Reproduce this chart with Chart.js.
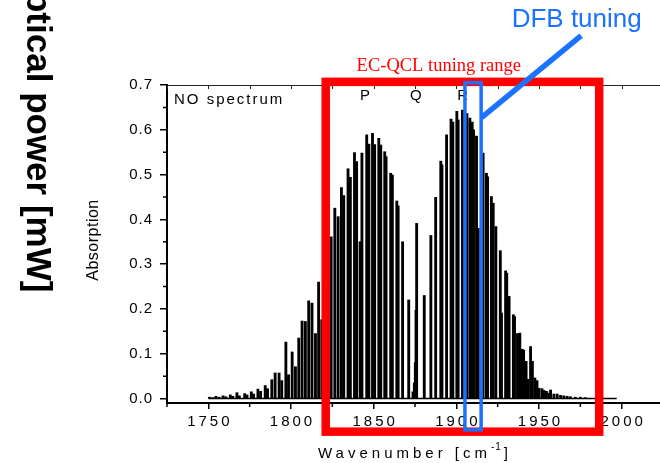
<!DOCTYPE html>
<html>
<head>
<meta charset="utf-8">
<script src="https://cdn.jsdelivr.net/npm/chart.js@4.4.1/dist/chart.umd.min.js"></script>
<style>
  html, body { margin: 0; padding: 0; background: #fff; }
  #wrap { width: 660px; height: 463px; overflow: hidden; }
  canvas { display: block; }
</style>
</head>
<body>
<div id="wrap"><canvas id="spec" width="700" height="463"></canvas></div>
<script>
// NO absorption lines (wavenumber in cm-1, absorption)
const wavenumber = [
  1750.6, 1752.6, 1754.6, 1756.6, 1758.9, 1760.6, 1763.3, 1764.8, 1767.3, 1768.7,
  1772.0, 1773.4, 1776.0, 1777.4, 1780.0, 1781.6, 1784.4, 1785.8, 1788.4, 1790.4,
  1792.8, 1794.4, 1796.9, 1798.5, 1800.7, 1802.7, 1804.7, 1806.7, 1808.7, 1810.7,
  1812.7, 1814.8, 1816.7, 1818.6, 1820.8, 1822.7, 1824.3, 1826.5, 1828.5, 1830.5,
  1831.9, 1834.5, 1835.9, 1838.4, 1839.7, 1841.8, 1842.9, 1845.8, 1847.1, 1849.3,
  1850.6, 1853.1, 1854.3, 1856.7, 1857.5, 1860.3, 1861.3, 1864.0, 1864.8, 1867.5,
  1871.2, 1873.8, 1874.6, 1875.2, 1875.6, 1876.0, 1880.6, 1884.6, 1887.5, 1890.6,
  1891.3, 1894.1, 1896.8, 1897.9, 1900.3, 1901.1, 1903.7, 1904.6, 1906.4, 1908.2,
  1909.6, 1910.4, 1912.2, 1913.3, 1916.2, 1918.2, 1918.9, 1921.2, 1922.3, 1923.9,
  1926.6, 1927.3, 1929.8, 1930.5, 1931.9, 1934.5, 1935.2, 1937.0, 1938.4, 1939.8,
  1940.7, 1942.2, 1943.3, 1944.9, 1946.0, 1947.5, 1948.8, 1950.0, 1951.8, 1953.0,
  1954.5, 1956.0, 1957.0, 1959.0, 1961.0, 1963.0, 1965.0, 1967.0, 1969.0, 1972.0,
  1975.0, 1978.0
];
const absorption = [
  0.003, 0.002, 0.005, 0.003, 0.006, 0.004, 0.008, 0.005, 0.013, 0.006,
  0.011, 0.008, 0.015, 0.010, 0.021, 0.016, 0.029, 0.022, 0.042, 0.057,
  0.057, 0.040, 0.126, 0.053, 0.104, 0.071, 0.135, 0.173, 0.172, 0.218,
  0.213, 0.145, 0.260, 0.176, 0.300, 0.209, 0.361, 0.425, 0.406, 0.471,
  0.453, 0.513, 0.494, 0.549, 0.529, 0.350, 0.548, 0.589, 0.568, 0.592,
  0.567, 0.581, 0.566, 0.551, 0.540, 0.503, 0.499, 0.441, 0.430, 0.350,
  0.220, 0.015, 0.035, 0.080, 0.197, 0.391, 0.230, 0.364, 0.449, 0.530,
  0.522, 0.589, 0.624, 0.617, 0.641, 0.622, 0.644, 0.630, 0.636, 0.626,
  0.617, 0.600, 0.586, 0.380, 0.548, 0.503, 0.495, 0.451, 0.436, 0.384,
  0.330, 0.191, 0.285, 0.280, 0.228, 0.187, 0.183, 0.145, 0.146, 0.110,
  0.108, 0.083, 0.043, 0.116, 0.083, 0.046, 0.040, 0.023, 0.022, 0.018,
  0.016, 0.012, 0.019, 0.010, 0.010, 0.007, 0.006, 0.005, 0.004, 0.003,
  0.003, 0.002
];
const baselineRange = [1750, 1997];
const xTicks = [1750, 1800, 1850, 1900, 1950, 2000];
const xMinorTicks = [1725, 1775, 1825, 1875, 1925, 1975, 2025];
const yTicks = [0.0, 0.1, 0.2, 0.3, 0.4, 0.5, 0.6, 0.7];
const yMinorTicks = [0.05, 0.15, 0.25, 0.35, 0.45, 0.55, 0.65];
const branchLabels = ['P', 'Q', 'R'];

// where the annotations sit, in axis units
const annot = {
  branchX: [1844.7, 1875.5, 1903.9], branchY: 0.667,
  ecqcl: { x1: 1821.0, x2: 1986.4, y1: -0.074, y2: 0.707 },
  dfb: { x1: 1905.2, x2: 1915.0, y1: -0.070, y2: 0.705 },
  pointer: { x1: 1915.2, y1: 0.627, x2: 1975.5, y2: 0.81 },
  ecqclText: { x: 1889.4, y: 0.7315 },
  dfbText: { x: 1972.8, y: 0.845 }
};

const SANS = '"Liberation Sans", Arial, sans-serif';
const RED = '#ff0000';
const BLUE = '#1a72ff';

function spaced(ctx, text, px, py, spacing, align) {
  ctx.letterSpacing = spacing + 'px';
  ctx.textAlign = align;
  let dx = 0;
  if (align === 'center') dx = spacing / 2;
  if (align === 'right') dx = spacing;
  ctx.fillText(text, px + dx, py);
  ctx.letterSpacing = '0px';
}

const deco = {
  id: 'deco',
  afterDraw(chart) {
    const { ctx, chartArea: a, scales: { x, y } } = chart;
    ctx.save();

    // top axis with small inward ticks
    ctx.strokeStyle = '#222';
    ctx.lineWidth = 1;
    ctx.beginPath();
    ctx.moveTo(a.left, a.top + 0.5);
    ctx.lineTo(a.right, a.top + 0.5);
    xTicks.concat(xMinorTicks).forEach(v => {
      const px = Math.round(x.getPixelForValue(v)) + 0.5;
      ctx.moveTo(px, a.top);
      ctx.lineTo(px, a.top + 4);
    });
    ctx.stroke();

    // minor ticks
    ctx.strokeStyle = '#000';
    ctx.lineWidth = 1.5;
    ctx.beginPath();
    xMinorTicks.forEach(v => {
      const px = x.getPixelForValue(v);
      ctx.moveTo(px, a.bottom);
      ctx.lineTo(px, a.bottom + 4);
    });
    yMinorTicks.forEach(v => {
      const py = y.getPixelForValue(v);
      ctx.moveTo(a.left, py);
      ctx.lineTo(a.left - 4, py);
    });
    ctx.stroke();

    // tick labels
    ctx.fillStyle = '#000';
    ctx.font = '15px ' + SANS;
    ctx.textBaseline = 'middle';
    xTicks.forEach(v => spaced(ctx, String(v), x.getPixelForValue(v), 421.5, 3, 'center'));
    yTicks.forEach(v => spaced(ctx, v.toFixed(1), a.left - 15, y.getPixelForValue(v), 1, 'right'));

    // axis titles
    ctx.textBaseline = 'alphabetic';
    ctx.textAlign = 'left';
    ctx.letterSpacing = '4px';
    const main = 'Wavenumber [cm';
    ctx.fillText(main, 318, 458);
    let tx = 318 + ctx.measureText(main).width;
    ctx.font = '10px ' + SANS;
    ctx.letterSpacing = '1px';
    ctx.fillText('-1', tx, 450);
    tx += ctx.measureText('-1').width + 2;
    ctx.font = '15px ' + SANS;
    ctx.letterSpacing = '0px';
    ctx.fillText(']', tx, 458);

    ctx.save();
    ctx.translate(98, 240);
    ctx.rotate(-Math.PI / 2);
    ctx.textAlign = 'center';
    ctx.font = '16px ' + SANS;
    ctx.letterSpacing = '0.5px';
    ctx.fillText('Absorption', 0, 0);
    ctx.restore();

    ctx.save();
    ctx.translate(27, 131);
    ctx.rotate(Math.PI / 2);
    ctx.textAlign = 'center';
    ctx.font = 'bold 35px ' + SANS;
    ctx.letterSpacing = '0px';
    ctx.fillText('optical power [mW]', 0, 0);
    ctx.restore();

    // in-plot labels
    ctx.font = '15px ' + SANS;
    spaced(ctx, 'NO spectrum', a.left + 7, y.getPixelForValue(0.657), 2, 'left');
    branchLabels.forEach((t, i) => {
      ctx.textAlign = 'center';
      ctx.fillText(t, x.getPixelForValue(annot.branchX[i]), y.getPixelForValue(annot.branchY));
    });

    // EC-QCL and DFB tuning boxes
    const box = (b, color, lw) => {
      const l = x.getPixelForValue(b.x1), r = x.getPixelForValue(b.x2);
      const t = y.getPixelForValue(b.y2), btm = y.getPixelForValue(b.y1);
      ctx.strokeStyle = color;
      ctx.lineWidth = lw;
      ctx.lineJoin = 'miter';
      ctx.strokeRect(l, t, r - l, btm - t);
    };
    box(annot.ecqcl, RED, 8.5);
    box(annot.dfb, BLUE, 3.5);

    // pointer to DFB box
    ctx.strokeStyle = BLUE;
    ctx.lineWidth = 5.5;
    ctx.beginPath();
    ctx.moveTo(x.getPixelForValue(annot.pointer.x1), y.getPixelForValue(annot.pointer.y1));
    ctx.lineTo(x.getPixelForValue(annot.pointer.x2), y.getPixelForValue(annot.pointer.y2));
    ctx.stroke();

    ctx.fillStyle = RED;
    ctx.font = '18.5px "Liberation Serif", "Times New Roman", serif';
    ctx.textAlign = 'center';
    ctx.fillText('EC-QCL tuning range', x.getPixelForValue(annot.ecqclText.x), y.getPixelForValue(annot.ecqclText.y));

    ctx.fillStyle = BLUE;
    ctx.font = '26px ' + SANS;
    ctx.textBaseline = 'middle';
    ctx.fillText('DFB tuning', x.getPixelForValue(annot.dfbText.x), y.getPixelForValue(annot.dfbText.y));

    ctx.restore();
  }
};

new Chart(document.getElementById('spec'), {
  type: 'bar',
  data: {
    datasets: [
      {
        type: 'line',
        data: baselineRange.map(v => ({ x: v, y: 0 })),
        borderColor: '#000',
        borderWidth: 1.5,
        pointRadius: 0
      },
      {
        data: wavenumber.map((w, i) => ({ x: w, y: absorption[i] })),
        backgroundColor: '#000',
        borderWidth: 0,
        barThickness: 2.2
      }
    ]
  },
  options: {
    responsive: false,
    devicePixelRatio: 1,
    animation: false,
    layout: { padding: { left: 0, top: 85, right: 37, bottom: 0 } },
    plugins: { legend: { display: false }, tooltip: { enabled: false } },
    scales: {
      x: {
        type: 'linear',
        min: 1725,
        max: 2025,
        offset: false,
        afterBuildTicks: s => { s.ticks = xTicks.map(v => ({ value: v })); },
        afterFit: s => { s.height = 60; },
        ticks: { display: false },
        grid: { display: true, offset: false, drawOnChartArea: false, drawTicks: true, tickLength: 6, color: '#000', lineWidth: 1.5 },
        border: { display: true, color: '#000', width: 2 }
      },
      y: {
        min: -0.01,
        max: 0.7,
        afterBuildTicks: s => { s.ticks = yTicks.map(v => ({ value: v })); },
        afterFit: s => { s.width = 167; },
        ticks: { display: false },
        grid: { display: true, drawOnChartArea: false, drawTicks: true, tickLength: 7, color: '#000', lineWidth: 1.5 },
        border: { display: true, color: '#000', width: 2 }
      }
    }
  },
  plugins: [deco]
});
</script>
</body>
</html>
